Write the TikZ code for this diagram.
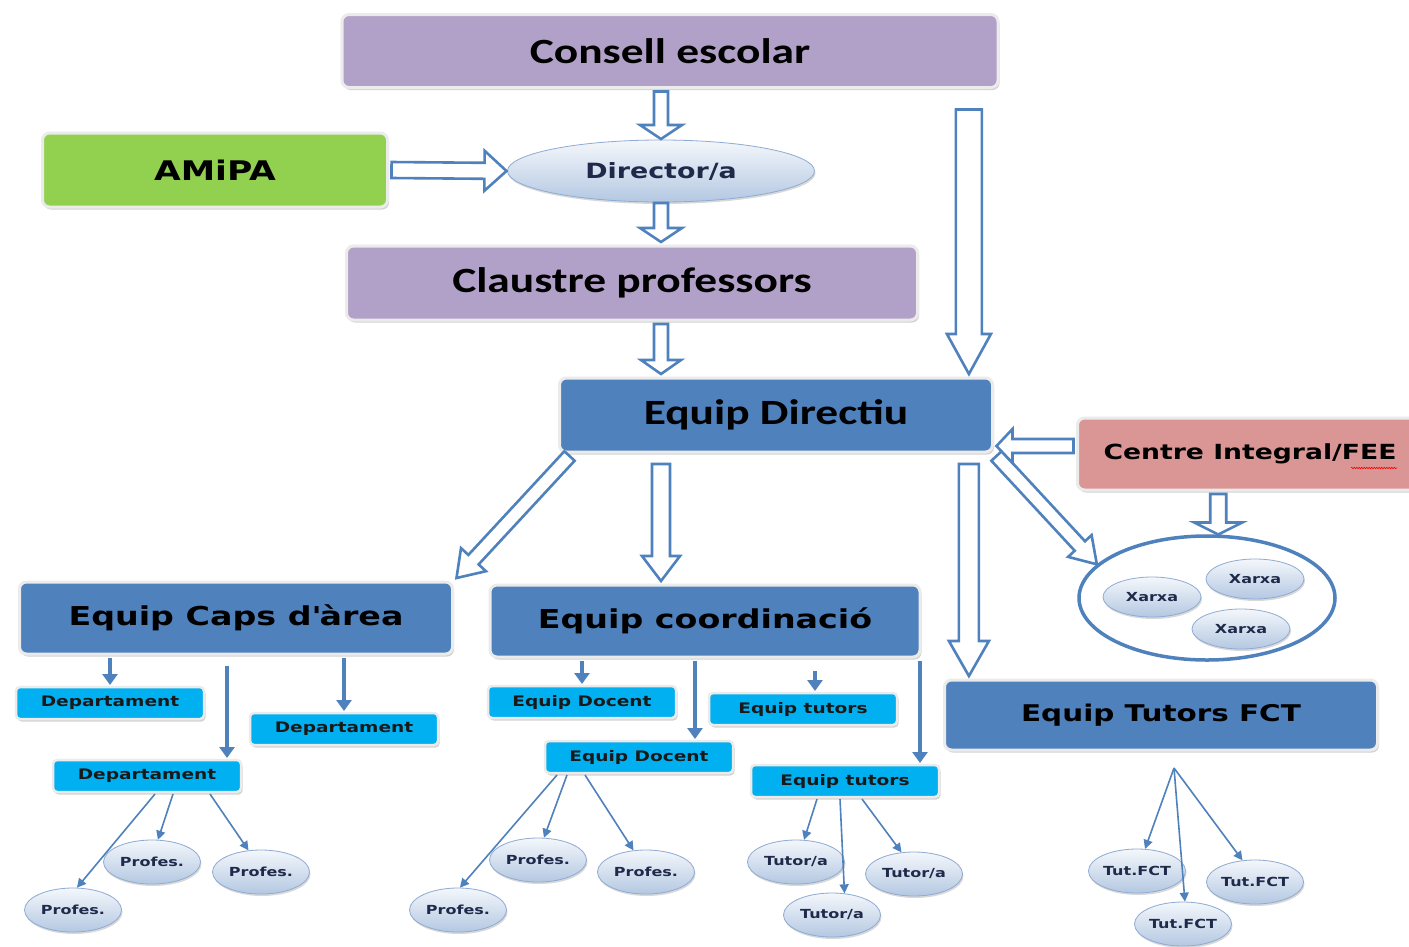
\documentclass[tikz,border=0pt]{standalone}
\usepackage{fontspec}
\setmainfont{DejaVu Sans}[FakeStretch=1.28]
\newfontfamily\calibri{Carlito}[FakeStretch=1.28]
\usepackage{tikz}
\usetikzlibrary{shapes.geometric, arrows.meta, calc, shadows, decorations.pathmorphing}

\definecolor{lilac}{HTML}{B1A0C7}
\definecolor{leafgreen}{HTML}{92D050}
\definecolor{teamblue}{HTML}{4F81BD}
\definecolor{skyblue}{HTML}{00B0F0}
\definecolor{rosered}{HTML}{D99694}
\definecolor{linkblue}{HTML}{4F81BD}
\definecolor{ovaltop}{HTML}{F4F7FB}
\definecolor{ovalbot}{HTML}{B4C8E2}
\definecolor{ovalline}{HTML}{8EABD3}
\definecolor{ovaltext}{HTML}{1F2A4A}

\newcommand{\fsz}[1]{\fontsize{#1}{#1}\selectfont}

\begin{document}
\begin{tikzpicture}[x=1pt, y=-1pt,
    box/.style={rectangle, rounded corners=7pt, draw=black!8, line width=3pt, outer sep=4pt,
      drop shadow={shadow xshift=1.5pt, shadow yshift=-2.5pt, opacity=0.35}, font=\bfseries},
    bigbox/.style={box, font=\calibri\bfseries\fsz{35.5}},
    team/.style={box, fill=teamblue, font=\bfseries\fsz{26}},
    unit/.style={box, fill=skyblue, rounded corners=4pt, line width=2.5pt, minimum width=188pt,
      minimum height=32pt, outer sep=2pt, text=black!90, font=\bfseries\fsz{14.5}},
    oval/.style={ellipse, draw=ovalline, line width=0.8pt, top color=ovaltop, bottom color=ovalbot,
      minimum width=97pt, minimum height=44pt, inner sep=0pt, text=ovaltext, font=\bfseries\fsz{12.5},
      drop shadow={shadow xshift=1pt, shadow yshift=-2pt, opacity=0.3}},
    hollow/.style n args={3}{draw=linkblue, line width=2.6pt, fill=white, line join=miter,
      to path={($(\tikztostart)!#1!-90:(\tikztotarget)$)
        -- ($(\tikztotarget)!#2!(\tikztostart)!#1!90:(\tikztostart)$)
        -- ($(\tikztotarget)!#2!(\tikztostart)!#3!90:(\tikztostart)$)
        -- (\tikztotarget)
        -- ($(\tikztotarget)!#2!(\tikztostart)!#3!-90:(\tikztostart)$)
        -- ($(\tikztotarget)!#2!(\tikztostart)!#1!-90:(\tikztostart)$)
        -- ($(\tikztostart)!#1!90:(\tikztotarget)$) -- cycle}},
    feed/.style={draw=linkblue, line width=4pt, -{Triangle[width=15pt, length=11pt]}},
    twig/.style={draw=linkblue, line width=1.6pt, -{Triangle[width=9pt, length=9pt]}}
]

\fill[white] (0,0) rectangle (1409,946);
\useasboundingbox (0,0) rectangle (1409,946);

% Governing bodies
\node[bigbox, fill=lilac, minimum width=656pt, minimum height=73pt] (consell) at (670,51) {Consell escolar};
\node[box, fill=leafgreen, minimum width=345pt, minimum height=74pt, font=\bfseries\fsz{27}] (amipa) at (215,170) {AMiPA};
\node[oval, minimum width=307pt, minimum height=62pt, outer sep=1pt, font=\bfseries\fsz{21}] (dir) at (661,171) {Director/a};
\node[bigbox, fill=lilac, minimum width=571pt, minimum height=74pt] (claustre) at (632,283) {Claustre professors};
\node[bigbox, fill=teamblue, minimum width=433pt, minimum height=74pt] (dirt) at (776,415) {Equip Directiu};
\node[box, fill=rosered, minimum width=345pt, minimum height=72pt, font=\bfseries\fsz{20.8}] (centre) at (1250,454) {Centre Integral/FEE};
\draw[red, line width=0.6pt, decorate, decoration={snake, amplitude=0.7pt, segment length=2.5pt}]
  ([xshift=101pt,yshift=-14pt]centre.center) -- ([xshift=147pt,yshift=-14pt]centre.center);

% Teams
\node[team, minimum width=433pt, minimum height=72pt] (caps) at (236,618) {Equip Caps d\textquotesingle àrea};
\node[team, minimum width=430pt, minimum height=72pt] (coord) at (705,621) {Equip coordinació};
\node[team, minimum width=433pt, minimum height=70pt, font=\bfseries\fsz{23}] (fct) at (1161,715) {Equip Tutors FCT};

% Networks
\node[ellipse, draw=linkblue, line width=3.5pt, fill=white, minimum width=256pt, minimum height=124pt] (xarxes) at (1207,598) {};
\node[oval, minimum width=98pt, minimum height=40pt] (xa) at (1152,597) {Xarxa};
\node[oval, minimum width=98pt, minimum height=40pt] (xb) at (1255,579) {Xarxa};
\node[oval, minimum width=98pt, minimum height=40pt] (xc) at (1241,629) {Xarxa};

% Units
\node[unit] (dep1) at (110,703) {Departament};
\node[unit] (dep2) at (344,729) {Departament};
\node[unit] (dep3) at (147,776) {Departament};
\node[unit] (doc1) at (582,702) {Equip Docent};
\node[unit] (doc2) at (639,757) {Equip Docent};
\node[unit] (tut1) at (803,709) {Equip tutors};
\node[unit] (tut2) at (845,781) {Equip tutors};

% People
\node[oval] (pa) at (152,862) {Profes.};
\node[oval] (pb) at (261,872) {Profes.};
\node[oval] (pc) at (73,910) {Profes.};
\node[oval] (pd) at (538,860) {Profes.};
\node[oval] (pe) at (646,872) {Profes.};
\node[oval] (pf) at (458,910) {Profes.};
\node[oval] (ta) at (796,862) {Tutor/a};
\node[oval] (tb) at (914,874) {Tutor/a};
\node[oval] (tc) at (832,915) {Tutor/a};
\node[oval] (fa) at (1137,871) {Tut.FCT};
\node[oval] (fb) at (1255,882) {Tut.FCT};
\node[oval] (fc) at (1183,924) {Tut.FCT};

% Hollow arrows
\draw[hollow={7pt}{14pt}{21pt}] ([xshift=-9pt]consell.south) to (dir.north);
\draw[hollow={8pt}{22pt}{20pt}] (amipa.east) to (dir.west);
\draw[hollow={7pt}{14pt}{21pt}] (dir.south) to (dir.south |- claustre.north);
\draw[hollow={7pt}{14pt}{20pt}] (dir.south |- claustre.south) to (dir.south |- dirt.north);
\draw[hollow={13pt}{40pt}{22pt}] ([yshift=-18pt]dirt.12 |- consell.south) to (dirt.12);
\draw[hollow={7pt}{25pt}{17pt}] ([xshift=14pt]dirt.south west) to (caps.north east);
\draw[hollow={9pt}{25pt}{19pt}] ([yshift=-8pt]dir.south |- dirt.south) to (dir.south |- coord.north);
\draw[hollow={10pt}{35pt}{20pt}] ([yshift=-8pt]dirt.12 |- dirt.south) to (dirt.12 |- fct.north);
\draw[hollow={7pt}{25pt}{16pt}] (dirt.south east) to (xarxes.163);
\draw[hollow={7pt}{16pt}{17pt}] (centre.west |- dirt.-8) to (dirt.-8);
\draw[hollow={8pt}{12pt}{24pt}] (xarxes.80 |- centre.south) to (xarxes.80);

% Feeds
\draw[feed] (caps.south -| dep1.north) -- (dep1.north);
\draw[feed] ([xshift=80pt,yshift=-8pt]dep3.north |- caps.south) -- ([xshift=80pt]dep3.north);
\draw[feed] (caps.south -| dep2.north) -- (dep2.north);
\draw[feed] (coord.south -| doc1.north) -- (doc1.north);
\draw[feed] ([xshift=56pt]doc2.north |- coord.south) -- ([xshift=56pt]doc2.north);
\draw[feed] ([xshift=12pt,yshift=-10pt]tut1.north |- coord.south) -- ([xshift=12pt]tut1.north);
\draw[feed] ([xshift=75pt]tut2.north |- coord.south) -- ([xshift=75pt]tut2.north);

% Twigs
\draw[twig] ([xshift=8pt]dep3.south) -- (pc.80);
\draw[twig] ([xshift=26pt]dep3.south) -- (pa.75);
\draw[twig] ([xshift=63pt]dep3.south) -- (pb.120);
\draw[twig] ([xshift=-82pt]doc2.south) -- (pf.85);
\draw[twig] ([xshift=-72pt]doc2.south) -- (pd.75);
\draw[twig] ([xshift=-54pt]doc2.south) -- (pe.120);
\draw[twig] ([xshift=-28pt]tut2.south) -- (ta.70);
\draw[twig] ([xshift=-5pt]tut2.south) -- (tc.60);
\draw[twig] ([xshift=17pt]tut2.south) -- (tb.120);
\coordinate (fctroot) at ([xshift=13pt,yshift=-14pt]fct.south);
\draw[twig] (fctroot) -- (fa.70);
\draw[twig] (fctroot) -- (fc.85);
\draw[twig] (fctroot) -- (fb.120);

\end{tikzpicture}
\end{document}
